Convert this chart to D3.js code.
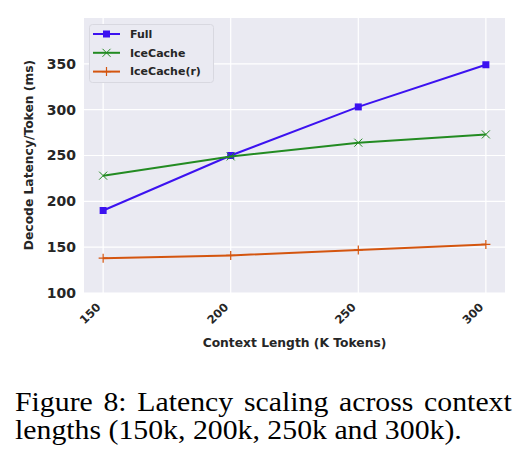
<!DOCTYPE html>
<html>
<head>
<meta charset="utf-8">
<script src="https://cdn.jsdelivr.net/npm/d3@7"></script>
<style>
  body { margin: 0; background: #fff; }
  svg text { font-family: "DejaVu Sans", sans-serif; }
</style>
</head>
<body>
<svg id="chart" width="529" height="467"></svg>
<script>
// data
const contextLengths = [150, 200, 250, 300]
const fullLatency = [190, 250, 303, 349]
const iceCacheLatency = [228, 249, 264, 273]
const iceCacheRLatency = [138, 141, 147, 153]
const yTicks = [100, 150, 200, 250, 300, 350]

const series = [
  { name: "Full", values: fullLatency, color: "#3c12f0", marker: "square" },
  { name: "IceCache", values: iceCacheLatency, color: "#238b22", marker: "x" },
  { name: "IceCache(r)", values: iceCacheRLatency, color: "#d4550f", marker: "plus" }
]

const svg = d3.select("#chart")
const plot = { left: 84, top: 18, right: 505, bottom: 293 }

const x = d3.scaleLinear().domain([142.5, 307.5]).range([plot.left, plot.right])
const y = d3.scaleLinear().domain([100, 400]).range([plot.bottom, plot.top])

svg.append("rect")
  .attr("x", plot.left).attr("y", plot.top)
  .attr("width", plot.right - plot.left).attr("height", plot.bottom - plot.top)
  .attr("fill", "#eaeaf2")

// grid
const grid = svg.append("g")
grid.selectAll(".gx").data(contextLengths).enter().append("line")
  .attr("x1", d => x(d)).attr("x2", d => x(d))
  .attr("y1", plot.top).attr("y2", plot.bottom)
  .attr("stroke", "#fff").attr("stroke-width", 1.2)
grid.selectAll(".gy").data(yTicks).enter().append("line")
  .attr("x1", plot.left).attr("x2", plot.right)
  .attr("y1", d => y(d)).attr("y2", d => y(d))
  .attr("stroke", "#fff").attr("stroke-width", 1.2)

// axes, no domain lines / tick marks (seaborn darkgrid)
const yAxis = svg.append("g")
  .attr("transform", "translate(" + plot.left + ",0)")
  .call(d3.axisLeft(y).tickValues(yTicks).tickSize(0).tickPadding(8))
yAxis.select(".domain").remove()
yAxis.selectAll("text")
  .attr("font-size", 14).attr("font-weight", "bold").attr("fill", "#262626")
  .attr("font-family", "DejaVu Sans")

const xAxis = svg.append("g")
  .attr("transform", "translate(0," + plot.bottom + ")")
  .call(d3.axisBottom(x).tickValues(contextLengths).tickSize(0).tickPadding(0))
xAxis.select(".domain").remove()
xAxis.selectAll("text")
  .attr("font-size", 11.5).attr("font-weight", "bold").attr("fill", "#262626")
  .attr("font-family", "DejaVu Sans")
  .attr("text-anchor", "end")
  .attr("y", 0).attr("dy", "0.35em")
  .attr("transform", "translate(-5,12) rotate(-45)")

svg.append("text")
  .attr("x", (plot.left + plot.right) / 2).attr("y", 347)
  .attr("text-anchor", "middle")
  .attr("font-size", 12.3).attr("font-weight", "bold").attr("fill", "#262626")
  .text("Context Length (K Tokens)")

svg.append("text")
  .attr("transform", "translate(33," + 155 + ") rotate(-90)")
  .attr("text-anchor", "middle")
  .attr("font-size", 12.3).attr("font-weight", "bold").attr("fill", "#262626")
  .text("Decode Latency/Token (ms)")

// lines and markers
const line = d3.line().x((d, i) => x(contextLengths[i])).y(d => y(d))

function drawMarker(g, type, color, cx, cy) {
  if (type == "square") {
    g.append("rect")
      .attr("x", cx - 3.5).attr("y", cy - 3.5).attr("width", 7).attr("height", 7)
      .attr("fill", color)
  } else if (type == "x") {
    g.append("path")
      .attr("d", "M" + (cx - 4) + "," + (cy - 4) + "L" + (cx + 4) + "," + (cy + 4) +
                 "M" + (cx - 4) + "," + (cy + 4) + "L" + (cx + 4) + "," + (cy - 4))
      .attr("stroke", color).attr("stroke-width", 1)
  } else {
    g.append("path")
      .attr("d", "M" + (cx - 4.5) + "," + cy + "L" + (cx + 4.5) + "," + cy +
                 "M" + cx + "," + (cy - 4.5) + "L" + cx + "," + (cy + 4.5))
      .attr("stroke", color).attr("stroke-width", 1.2)
  }
}

series.forEach(s => {
  const g = svg.append("g")
  g.append("path")
    .attr("d", line(s.values))
    .attr("fill", "none").attr("stroke", s.color).attr("stroke-width", 2)
  s.values.forEach((v, i) => drawMarker(g, s.marker, s.color, x(contextLengths[i]), y(v)))
})

// legend
const legend = svg.append("g")
legend.append("rect")
  .attr("x", 89.5).attr("y", 24.5).attr("width", 124).attr("height", 58).attr("rx", 3)
  .attr("fill", "#eaeaf2").attr("stroke", "#d8d8e0").attr("stroke-width", 1)
series.forEach((s, i) => {
  const cy = 34 + i * 18.8
  legend.append("line")
    .attr("x1", 93).attr("x2", 120).attr("y1", cy).attr("y2", cy)
    .attr("stroke", s.color).attr("stroke-width", 2)
  drawMarker(legend, s.marker, s.color, 106.5, cy)
  legend.append("text")
    .attr("x", 130).attr("y", cy).attr("dy", "0.35em")
    .attr("font-size", 11).attr("font-weight", "bold").attr("fill", "#262626")
    .text(s.name)
})

// caption: justified first line (wider word gaps), last line natural
const captionLines = ["Figure 8: Latency scaling across context", "lengths (150k, 200k, 250k and 300k)."]
const t1 = svg.append("text").attr("y", 0)
  .style("font-family", "'Liberation Serif', serif").style("font-size", "26.5px")
  .text(captionLines[0])
const t2 = svg.append("text").attr("y", 0)
  .style("font-family", "'Liberation Serif', serif").style("font-size", "26.5px")
  .text(captionLines[1])
const sx = 447 / t2.node().getComputedTextLength()
const gaps = captionLines[0].split(" ").length - 1
const ws = (497 / sx - t1.node().getComputedTextLength()) / gaps
t1.attr("transform", "translate(15,411) scale(" + sx + ",1)").style("word-spacing", ws + "px")
t2.attr("transform", "translate(15,439) scale(" + sx + ",1)")
</script>
</body>
</html>
